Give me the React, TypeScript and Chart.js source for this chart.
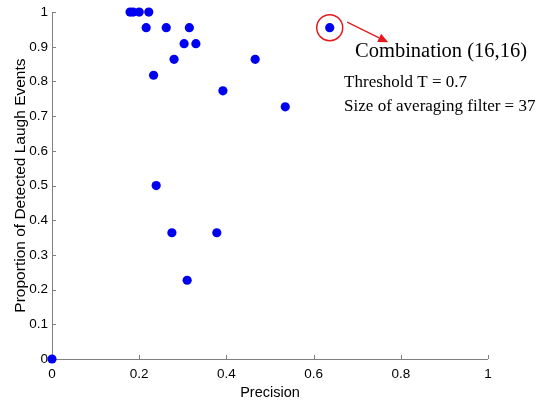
import React, { useEffect, useRef } from "react";
import { Chart, registerables } from "chart.js";

Chart.register(...registerables);

// Data (precision, proportion of detected laugh events)
const precision = [
  0.179, 0.186, 0.2, 0.222, 0.216, 0.262, 0.315, 0.303, 0.33, 0.28, 0.233,
  0.392, 0.466, 0.535, 0.637, 0.239, 0.275, 0.378, 0.31, 0,
];
const proportion = [
  1, 1, 1, 1, 0.955, 0.955, 0.955, 0.909, 0.909, 0.864, 0.818,
  0.773, 0.864, 0.727, 0.955, 0.5, 0.364, 0.364, 0.227, 0,
];
const xTicks = [0, 0.2, 0.4, 0.6, 0.8, 1];
const yTicks = [0, 0.1, 0.2, 0.3, 0.4, 0.5, 0.6, 0.7, 0.8, 0.9, 1];
const xTitle = "Precision";
const yTitle = "Proportion of Detected Laugh Events";
const highlightIndex = 14;
const noteTitle = "Combination (16,16)";
const noteLines = ["Threshold T = 0.7", "Size of averaging filter = 37"];

export default function App() {
  const ref = useRef<HTMLCanvasElement>(null);
  useEffect(() => {
    const canvas = ref.current;
    if (!canvas) return;
    const axisColor = "#7f7f7f";
    const axesPlugin = {
      id: "matlabAxes",
      beforeDatasetsDraw(chart: any) {
        const { ctx, chartArea, scales } = chart;
        const xs = scales.x;
        const ys = scales.y;
        ctx.save();
        ctx.strokeStyle = axisColor;
        ctx.lineWidth = 1;
        ctx.beginPath();
        ctx.moveTo(chartArea.left + 0.5, chartArea.top);
        ctx.lineTo(chartArea.left + 0.5, chartArea.bottom + 0.5);
        ctx.lineTo(chartArea.right, chartArea.bottom + 0.5);
        for (const t of xTicks) {
          const px = Math.round(xs.getPixelForValue(t)) + 0.5;
          ctx.moveTo(px, chartArea.bottom);
          ctx.lineTo(px, chartArea.bottom - 4);
        }
        for (const t of yTicks) {
          const py = Math.round(ys.getPixelForValue(t)) + 0.5;
          ctx.moveTo(chartArea.left, py);
          ctx.lineTo(chartArea.left + 4, py);
        }
        ctx.stroke();
        ctx.restore();
      },
      afterDraw(chart: any) {
        const { ctx, scales } = chart;
        const xs = scales.x;
        const ys = scales.y;
        ctx.save();
        // red circle around highlighted point
        const cx = xs.getPixelForValue(precision[highlightIndex]);
        const cy = ys.getPixelForValue(proportion[highlightIndex]);
        ctx.strokeStyle = "#e3191c";
        ctx.fillStyle = "#e3191c";
        ctx.lineWidth = 1.5;
        ctx.beginPath();
        ctx.arc(cx, cy, 13, 0, Math.PI * 2);
        ctx.stroke();
        // arrow
        const x1 = xs.getPixelForValue(0.677);
        const y1 = ys.getPixelForValue(0.971);
        const x2 = xs.getPixelForValue(0.771);
        const y2 = ys.getPixelForValue(0.913);
        const ang = Math.atan2(y2 - y1, x2 - x1);
        const hl = 10;
        const hw = 4.5;
        const bx = x2 - hl * Math.cos(ang);
        const by = y2 - hl * Math.sin(ang);
        ctx.lineWidth = 1.2;
        ctx.beginPath();
        ctx.moveTo(x1, y1);
        ctx.lineTo(bx, by);
        ctx.stroke();
        ctx.beginPath();
        ctx.moveTo(x2, y2);
        ctx.lineTo(bx + hw * Math.sin(ang), by - hw * Math.cos(ang));
        ctx.lineTo(bx - hw * Math.sin(ang), by + hw * Math.cos(ang));
        ctx.closePath();
        ctx.fill();
        // texts
        ctx.fillStyle = "#000";
        ctx.textAlign = "left";
        ctx.textBaseline = "alphabetic";
        ctx.font = '20.5px "Liberation Serif"';
        ctx.fillText(noteTitle, xs.getPixelForValue(0.695), ys.getPixelForValue(0.872));
        ctx.font = '17px "Liberation Serif"';
        ctx.fillText(noteLines[0], xs.getPixelForValue(0.67), ys.getPixelForValue(0.784));
        ctx.fillText(noteLines[1], xs.getPixelForValue(0.67), ys.getPixelForValue(0.716));
        ctx.restore();
      },
    };

    const data = precision.map((x, i) => ({ x, y: proportion[i] }));
    const tickFont = { family: '"Liberation Sans", Arial, sans-serif', size: 13.5 };
    const chart = new Chart(canvas, {
      type: "scatter",
      data: {
        datasets: [
          {
            data,
            backgroundColor: "#0000f0",
            borderColor: "#0000f0",
            pointRadius: 4.6,
            pointHoverRadius: 4.6,
            borderWidth: 0,
            clip: false as any,
          },
        ],
      },
      options: {
        animation: false,
        responsive: false,
        maintainAspectRatio: false,
        events: [],
        layout: { padding: { top: 9, right: 61, bottom: 0, left: 0 } },
        plugins: { legend: { display: false }, tooltip: { enabled: false } },
        scales: {
          x: {
            type: "linear",
            min: 0,
            max: 1,
            afterFit: (s: any) => {
              s.height = 41;
            },
            afterBuildTicks: (s: any) => {
              s.ticks = xTicks.map((v) => ({ value: v }));
            },
            grid: { display: false, drawTicks: false },
            border: { display: false },
            ticks: {
              color: "#000",
              font: tickFont,
              padding: 7,
              maxRotation: 0,
              callback: (v: any) => String(v),
            },
            title: {
              display: true,
              text: xTitle,
              color: "#000",
              font: { family: '"Liberation Sans", Arial, sans-serif', size: 14.5, lineHeight: 1 },
              padding: { top: 0, bottom: 0 },
            },
          },
          y: {
            type: "linear",
            min: 0,
            max: 1,
            afterFit: (s: any) => {
              s.width = 52;
            },
            afterBuildTicks: (s: any) => {
              s.ticks = yTicks.map((v) => ({ value: v }));
            },
            grid: { display: false, drawTicks: false },
            border: { display: false },
            ticks: {
              color: "#000",
              font: tickFont,
              padding: 4,
              callback: (v: any) => String(v),
            },
            title: {
              display: true,
              text: yTitle,
              color: "#000",
              font: { family: '"Liberation Sans", Arial, sans-serif', size: 15.5, lineHeight: 1 },
              padding: { top: 13, bottom: 0 },
            },
          },
        },
      },
      plugins: [axesPlugin],
    });
    return () => chart.destroy();
  }, []);

  return (
    <div style={{ position: "fixed", left: 0, top: 0, width: 549, height: 400, background: "#fff" }}>
      <canvas ref={ref} width={549} height={400} style={{ display: "block", width: 549, height: 400 }} />
    </div>
  );
}
